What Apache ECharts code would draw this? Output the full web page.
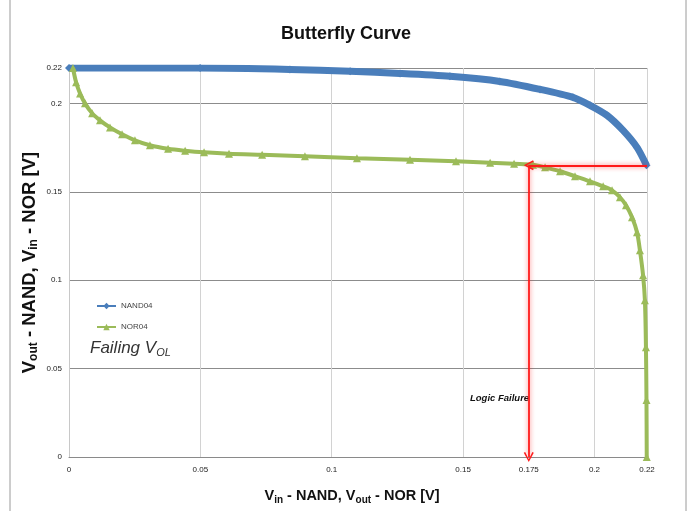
<!DOCTYPE html>
<html><head><meta charset="utf-8">
<script src="https://cdn.jsdelivr.net/npm/echarts@6/dist/echarts.min.js"></script>
<style>html,body{margin:0;padding:0;background:#fff}#c{width:692px;height:511px}</style>
</head><body><div id="c"></div>
<script>
// NAND04: x = Vin NAND, y = Vout NAND
const nandX = [0, 0.0499, 0.0841, 0.1070, 0.1260, 0.1450, 0.1640, 0.1793, 0.1918, 0.1983, 0.2048, 0.2109, 0.2162, 0.2198];
const nandY = [0.22, 0.22, 0.2192, 0.2181, 0.2169, 0.2153, 0.2124, 0.2079, 0.2034, 0.1989, 0.1932, 0.1847, 0.1751, 0.165];
// NOR04: x = Vout NOR, y = Vin NOR
const norX = [0.0015, 0.0027, 0.0042, 0.0061, 0.0088, 0.0118, 0.0156, 0.0202, 0.0251, 0.0308, 0.0377, 0.0442, 0.0514, 0.0609, 0.0735, 0.0898, 0.1096, 0.1298, 0.1473, 0.1603, 0.1694, 0.1766, 0.1812, 0.1869, 0.1926, 0.1983, 0.2033, 0.2067, 0.2097, 0.2120, 0.2143, 0.2162, 0.2173, 0.2185, 0.2192, 0.2196, 0.2198, 0.2199];
const norY = [0.22, 0.2119, 0.2056, 0.2, 0.1944, 0.1904, 0.1864, 0.1825, 0.1791, 0.1763, 0.1743, 0.1732, 0.1723, 0.1715, 0.1709, 0.1701, 0.1689, 0.1681, 0.1672, 0.1664, 0.1658, 0.1653, 0.1638, 0.1616, 0.1588, 0.1559, 0.1531, 0.1508, 0.1469, 0.1424, 0.1356, 0.1271, 0.1169, 0.1028, 0.0887, 0.0621, 0.0322, 0];
const xTickLabels = [0, 0.05, 0.1, 0.15, 0.175, 0.2, 0.22];
const yTickLabels = [0, 0.05, 0.1, 0.15, 0.2, 0.22];
// annotation arrows (data coords)
const failX = 0.175, failY = 0.165, edgeX = 0.22;

const SANS = "'Liberation Sans', Arial, sans-serif";
const nandData = nandX.map((x, i) => [x, nandY[i]]);
const norData = norX.map((x, i) => [x, norY[i]]);
const chevron = 'path://M0,10 L5,0 L10,10 L8.6,10.8 L5,3 L1.4,10.8 Z';

const chart = echarts.init(document.getElementById('c'));
chart.setOption({
  animation: false,
  backgroundColor: '#fff',
  title: {
    text: 'Butterfly Curve', left: 'center', top: 20,
    textStyle: { fontFamily: SANS, fontSize: 18, fontWeight: 'bold', color: '#111' }
  },
  legend: {
    orient: 'vertical', left: 91, top: 297, itemWidth: 19, itemHeight: 8, itemGap: 13,
    textStyle: { fontFamily: SANS, fontSize: 8, color: '#444' },
    lineStyle: { width: 2 },
    data: ['NAND04', 'NOR04']
  },
  grid: { left: 69, right: 45, top: 68, bottom: 54 },
  xAxis: {
    type: 'value', min: 0, max: 0.22, interval: 0.05,
    name: '{b|V}{s|in}{b| - NAND, V}{s|out}{b| - NOR [V]}',
    nameLocation: 'middle', nameGap: 30,
    nameTextStyle: { padding: [0, 12, 0, 0], rich: {
      b: { fontFamily: SANS, fontSize: 14.5, fontWeight: 'bold', color: '#111' },
      s: { fontFamily: SANS, fontSize: 10, fontWeight: 'bold', color: '#111', padding: [8, 0, 0, 0] }
    }},
    axisLine: { show: true, lineStyle: { color: '#8a8a8a' } },
    axisTick: { show: false },
    axisLabel: { customValues: xTickLabels, fontFamily: SANS, fontSize: 8, color: '#222', margin: 9,
      formatter: v => String(v) },
    splitLine: { show: true, lineStyle: { color: '#d2d2d2', width: 1 } }
  },
  yAxis: {
    type: 'value', min: 0, max: 0.22, interval: 0.05,
    name: '{b|V}{s|out}{b| - NAND, V}{s|in}{b| - NOR [V]}',
    nameLocation: 'middle', nameGap: 29, nameRotate: 90, nameMoveOverlap: false,
    nameTextStyle: { rich: {
      b: { fontFamily: SANS, fontSize: 18.5, fontWeight: 'bold', color: '#111' },
      s: { fontFamily: SANS, fontSize: 12, fontWeight: 'bold', color: '#111', padding: [9, 0, 0, 0] }
    }},
    axisLine: { show: true, lineStyle: { color: '#c8c8c8' } },
    axisTick: { show: false },
    axisLabel: { fontFamily: SANS, fontSize: 8, color: '#222', margin: 7, formatter: v => String(v) },
    splitLine: { show: true, lineStyle: { color: '#8c8c8c', width: 1 } }
  },
  series: [
    {
      name: 'NAND04', type: 'line', data: nandData, smooth: 0.25,
      symbol: 'diamond', symbolSize: 8, showAllSymbol: true,
      lineStyle: { color: '#4A7EBB', width: 7 },
      itemStyle: { color: '#4A7EBB' }, z: 3
    },
    {
      name: 'NOR04', type: 'line', data: norData, smooth: 0.3,
      symbol: 'triangle', symbolSize: 8, showAllSymbol: true,
      lineStyle: { color: '#9BBB59', width: 4 },
      itemStyle: { color: '#9BBB59' }, z: 4,
      markLine: {
        silent: true, symbol: ['none', chevron], symbolSize: [10, 10],
        label: { show: false },
        lineStyle: { color: '#ff1a1a', width: 1.8, type: 'solid', shadowBlur: 5, shadowColor: 'rgba(255,0,0,0.6)' },
        data: [
          [{ coord: [edgeX, failY] }, { coord: [failX, failY] }],
          [{ coord: [failX, failY] }, { coord: [failX, 0] }]
        ]
      }
    }
  ],
  graphic: [
    { type: 'line', shape: { x1: 10, y1: 0, x2: 10, y2: 511 }, style: { stroke: '#9a9a9a', lineWidth: 1 } },
    { type: 'line', shape: { x1: 686, y1: 0, x2: 686, y2: 511 }, style: { stroke: '#9a9a9a', lineWidth: 1 } },
    { type: 'text', left: 90, top: 340, style: {
      text: '{a|Failing V}{b|OL}',
      rich: {
        a: { fontFamily: SANS, fontSize: 17, fontStyle: 'italic', fill: '#333' },
        b: { fontFamily: SANS, fontSize: 11, fontStyle: 'italic', fill: '#333', padding: [9, 0, 0, 0] }
      }
    }},
    { type: 'text', left: 470, top: 393, style: {
      text: 'Logic Failure', fontFamily: SANS, fontSize: 9.5, fontStyle: 'italic', fontWeight: 'bold', fill: '#111'
    }}
  ]
});
</script></body></html>
